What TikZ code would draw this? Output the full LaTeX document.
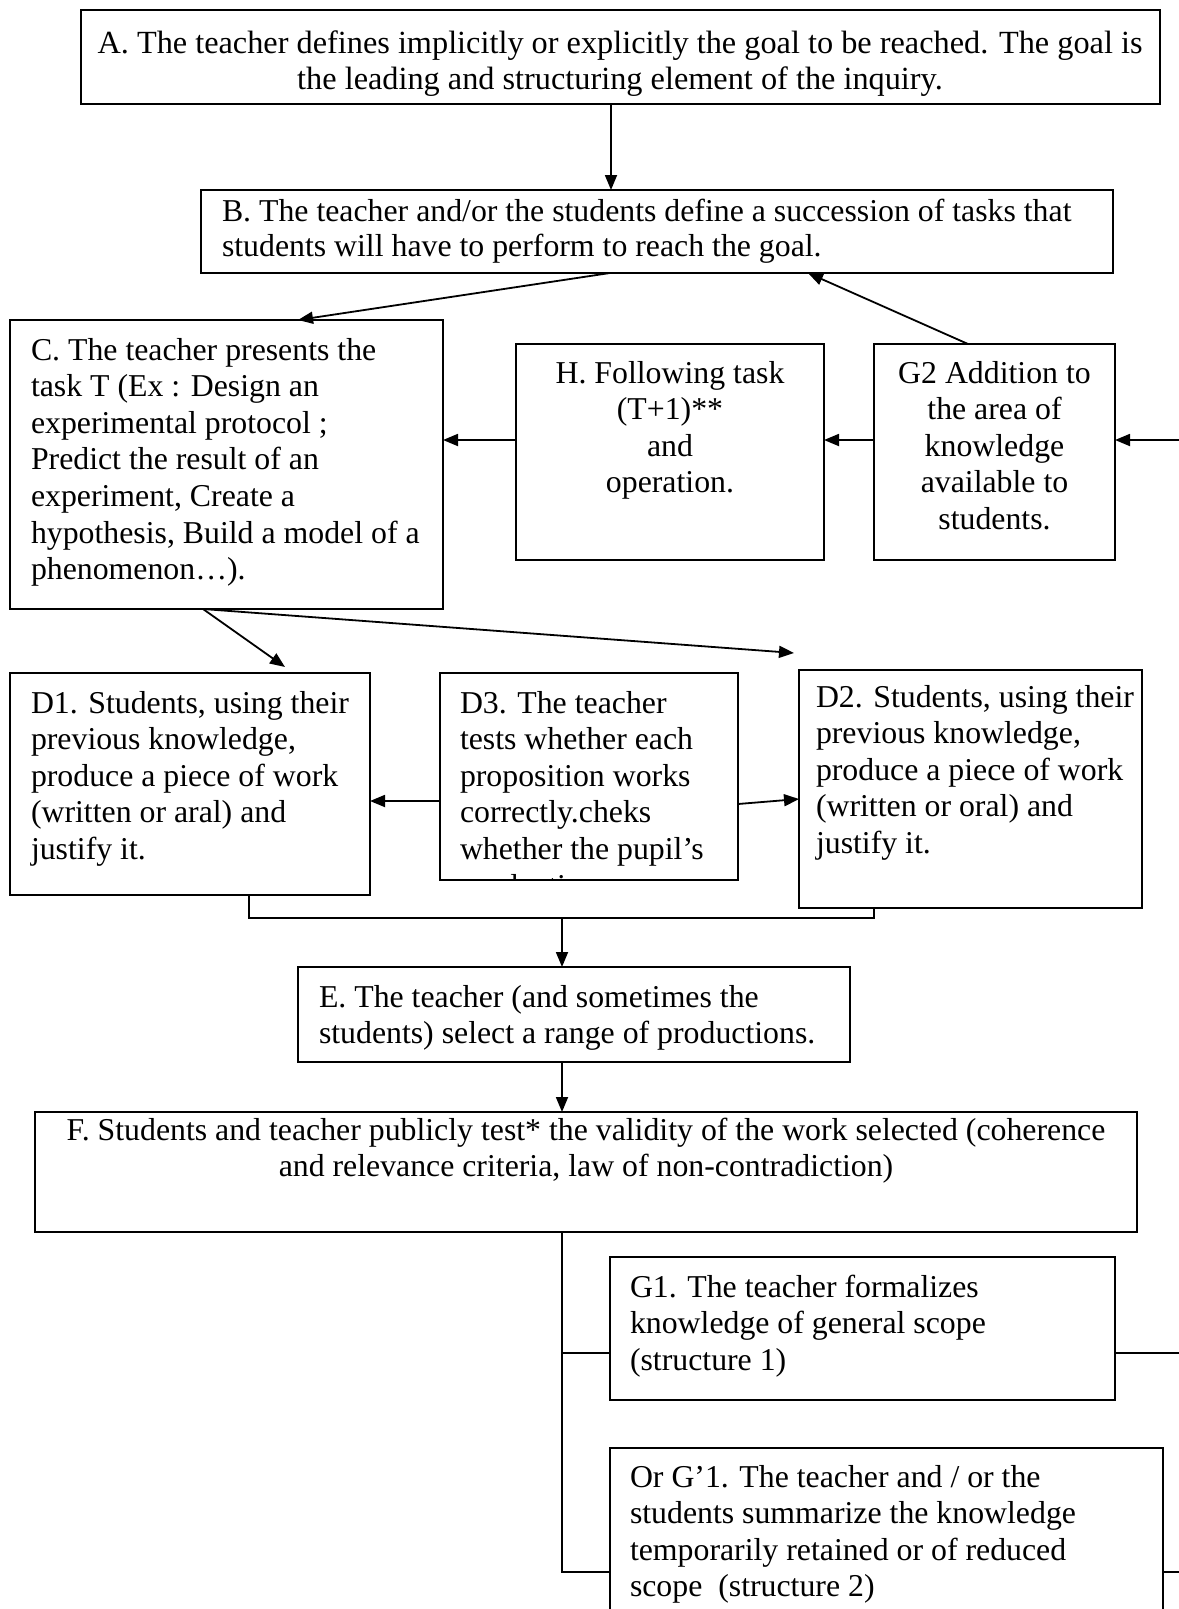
\documentclass[tikz,border=0pt]{standalone}
\usepackage{fontspec}
\setmainfont{Liberation Serif}
\usetikzlibrary{arrows.meta}
\tikzset{
  boxst/.style={draw, line width=1.3pt, inner sep=0pt, outer sep=0pt},
  txt/.style={inner sep=0pt, outer sep=0pt, font=\fontsize{31.8}{36.6}\selectfont},
  bigtxt/.style={inner sep=0pt, outer sep=0pt, font=\fontsize{32.3}{36.6}\selectfont},
  conn/.style={line width=1.8pt, -{Triangle[length=15pt,width=12pt]}},
  plainln/.style={line width=1.3pt},
}
\newcommand\bxn[5]{\node[boxst, minimum width={(#4-#2)*1pt}, minimum height={(#5-#3)*1pt}] (#1) at ({(#2+#4)/2},{(#3+#5)/2}) {};}
\newcommand\fs{\rule{0pt}{26pt}}
\begin{document}
\begin{tikzpicture}[x=1pt,y=-1pt]
\useasboundingbox (0,0) rectangle (1178,1609);
% boxes
\bxn{A}{81}{10}{1160}{104}
\bxn{B}{201}{190}{1113}{273}
\bxn{C}{10}{320}{443}{609}
\bxn{H}{516}{344}{824}{560}
\bxn{G2}{874}{344}{1115}{560}
\bxn{D1}{10}{673}{370}{895}
\bxn{D3}{440}{673}{738}{880}
\bxn{D2}{799}{670}{1142}{908}
\bxn{E}{298}{967}{850}{1062}
\bxn{F}{35}{1112}{1137}{1232}
\bxn{G1}{610}{1257}{1115}{1400}
\bxn{G1p}{610}{1448}{1163}{1660}
% texts
\node[bigtxt, anchor=north, align=center] (At) at (620,27) {\fs A. The teacher defines implicitly or explicitly the goal to be reached. The goal is\\ the leading and structuring element of the inquiry.};
\node[txt, anchor=north west, align=left, font=\fontsize{31.8}{35}\selectfont] (Bt) at (222,195) {\fs B. The teacher and/or the students define a succession of tasks that\\ students will have to perform to reach the goal.};
\node[txt, anchor=north west, align=left] (Ct) at (31,334) {\fs C. The teacher presents the\\ task T (Ex : Design an\\ experimental protocol ;\\ Predict the result of an\\ experiment, Create a\\ hypothesis, Build a model of a\\ phenomenon…).};
\node[txt, anchor=north, align=center] (Ht) at (670,357) {\fs H. Following task\\ (T+1)**\\ and\\ operation.};
\node[txt, anchor=north, align=center] (G2t) at (994.5,357) {\fs G2 Addition to\\ the area of\\ knowledge\\ available to\\ students.};
\node[txt, anchor=north west, align=left] (D1t) at (31,687) {\fs D1. Students, using their\\ previous knowledge,\\ produce a piece of work\\ (written or aral) and\\ justify it.};
\begin{scope}
\clip (D3.north west) rectangle (D3.south east);
\node[txt, anchor=north west, align=left] (D3t) at (460,687) {\fs D3. The teacher\\ tests whether each\\ proposition works\\ correctly.cheks\\ whether the pupil’s\\ productions};
\end{scope}
\node[txt, anchor=north west, align=left] (D2t) at (816,681) {\fs D2. Students, using their\\ previous knowledge,\\ produce a piece of work\\ (written or oral) and\\ justify it.};
\node[txt, anchor=north west, align=left] (Et) at (319,981) {\fs E. The teacher (and sometimes the\\ students) select a range of productions.};
\node[txt, anchor=north, align=center] (Ft) at (586,1114) {\fs F. Students and teacher publicly test* the validity of the work selected (coherence\\ and relevance criteria, law of non-contradiction)};
\node[txt, anchor=north west, align=left] (G1t) at (630,1271) {\fs G1. The teacher formalizes\\ knowledge of general scope\\ (structure 1)};
\node[txt, anchor=north west, align=left] (G1pt) at (630,1461) {\fs Or G’1. The teacher and / or the\\ students summarize the knowledge\\ temporarily retained or of reduced\\ scope\ \ (structure 2)};
% helper coordinates
\coordinate (ab) at (611,0);
\coordinate (bc1) at (610,0);
\coordinate (bc2) at (298,0);
\coordinate (gb1) at (968,0);
\coordinate (gb2) at (808,0);
\coordinate (row) at (0,440);
\coordinate (edge) at (1190,0);
\coordinate (cd) at (203,0);
\coordinate (d1tip) at (285,667);
\coordinate (d2tip) at (794,653);
\coordinate (r3) at (0,801);
\coordinate (r3b) at (0,804);
\coordinate (r3c) at (0,799);
\coordinate (brk) at (0,918);
\coordinate (bx1) at (249,0);
\coordinate (bx2) at (874,0);
\coordinate (mid) at (562,0);
\coordinate (gy1) at (0,1353);
\coordinate (gy2) at (0,1572);
% connectors
\draw[conn] (A.south -| ab) -- (B.north -| ab);
\draw[conn] (B.south -| bc1) -- (C.north -| bc2);
\draw[conn] (G2.north -| gb1) -- (B.south -| gb2);
\draw[conn] (edge |- row) -- (G2.east |- row);
\draw[conn] (G2.west |- row) -- (H.east |- row);
\draw[conn] (H.west |- row) -- (C.east |- row);
\draw[conn] (C.south -| cd) -- (d1tip);
\draw[conn] (C.south -| cd) -- (d2tip);
\draw[conn] (D3.west |- r3) -- (D1.east |- r3);
\draw[conn] (D3.east |- r3b) -- (D2.west |- r3c);
\draw[plainln] (D1.south -| bx1) -- (bx1 |- brk) -- (bx2 |- brk) -- (D2.south -| bx2);
\draw[conn] (mid |- brk) -- (E.north -| mid);
\draw[conn] (E.south -| mid) -- (F.north -| mid);
\draw[plainln] (F.south -| mid) -- (mid |- gy2) -- (G1p.west |- gy2);
\draw[plainln] (mid |- gy1) -- (G1.west |- gy1);
\draw[plainln] (G1.east |- gy1) -- (edge |- gy1);
\draw[plainln] (G1p.east |- gy2) -- (edge |- gy2);
\end{tikzpicture}
\end{document}
